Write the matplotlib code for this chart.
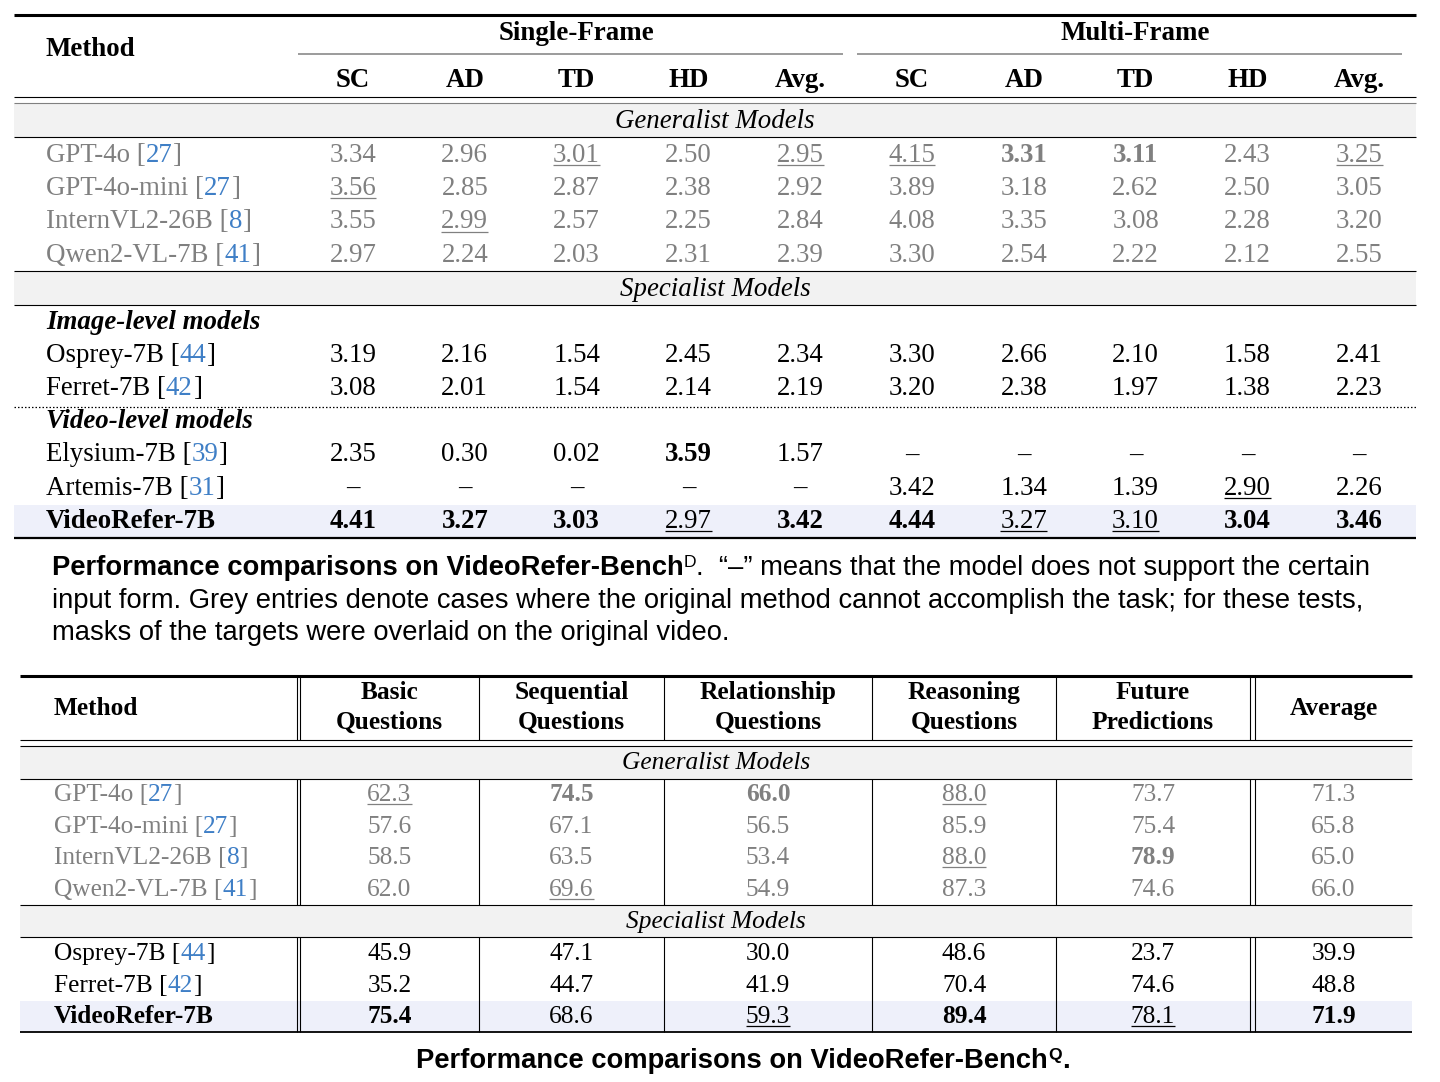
import matplotlib
matplotlib.use('Agg')
import matplotlib.pyplot as plt
from matplotlib.patches import Rectangle

# ---------------- data: table 1 (VideoRefer-Bench D) ----------------
t1_groups = ['Single-Frame', 'Multi-Frame']
t1_metrics = ['SC', 'AD', 'TD', 'HD', 'Avg.']

t1_gen_names = ['GPT-4o', 'GPT-4o-mini', 'InternVL2-26B', 'Qwen2-VL-7B']
t1_gen_refs = ['27', '27', '8', '41']
t1_gen_vals = [
    [3.34, 2.96, 3.01, 2.50, 2.95, 4.15, 3.31, 3.11, 2.43, 3.25],
    [3.56, 2.85, 2.87, 2.38, 2.92, 3.89, 3.18, 2.62, 2.50, 3.05],
    [3.55, 2.99, 2.57, 2.25, 2.84, 4.08, 3.35, 3.08, 2.28, 3.20],
    [2.97, 2.24, 2.03, 2.31, 2.39, 3.30, 2.54, 2.22, 2.12, 2.55],
]
t1_gen_fmt = [
    ['', '', 'u', '', 'u', 'u', 'b', 'b', '', 'u'],
    ['u', '', '', '', '', '', '', '', '', ''],
    ['', 'u', '', '', '', '', '', '', '', ''],
    ['', '', '', '', '', '', '', '', '', ''],
]

t1_img_title = 'Image-level models'
t1_img_names = ['Osprey-7B', 'Ferret-7B']
t1_img_refs = ['44', '42']
t1_img_vals = [
    [3.19, 2.16, 1.54, 2.45, 2.34, 3.30, 2.66, 2.10, 1.58, 2.41],
    [3.08, 2.01, 1.54, 2.14, 2.19, 3.20, 2.38, 1.97, 1.38, 2.23],
]
t1_img_fmt = [[''] * 10, [''] * 10]

t1_vid_title = 'Video-level models'
t1_vid_names = ['Elysium-7B', 'Artemis-7B', 'VideoRefer-7B']
t1_vid_refs = ['39', '31', None]
t1_vid_vals = [
    [2.35, 0.30, 0.02, 3.59, 1.57, None, None, None, None, None],
    [None, None, None, None, None, 3.42, 1.34, 1.39, 2.90, 2.26],
    [4.41, 3.27, 3.03, 2.97, 3.42, 4.44, 3.27, 3.10, 3.04, 3.46],
]
t1_vid_fmt = [
    ['', '', '', 'b', '', '', '', '', '', ''],
    ['', '', '', '', '', '', '', '', 'u', ''],
    ['b', 'b', 'b', 'u', 'b', 'b', 'u', 'u', 'b', 'b'],
]

# ---------------- data: table 2 (VideoRefer-Bench Q) ----------------
t2_headers = [['Basic', 'Questions'], ['Sequential', 'Questions'],
              ['Relationship', 'Questions'], ['Reasoning', 'Questions'],
              ['Future', 'Predictions'], ['Average']]
t2_gen_names = ['GPT-4o', 'GPT-4o-mini', 'InternVL2-26B', 'Qwen2-VL-7B']
t2_gen_refs = ['27', '27', '8', '41']
t2_gen_vals = [
    [62.3, 74.5, 66.0, 88.0, 73.7, 71.3],
    [57.6, 67.1, 56.5, 85.9, 75.4, 65.8],
    [58.5, 63.5, 53.4, 88.0, 78.9, 65.0],
    [62.0, 69.6, 54.9, 87.3, 74.6, 66.0],
]
t2_gen_fmt = [
    ['u', 'b', 'b', 'u', '', ''],
    ['', '', '', '', '', ''],
    ['', '', '', 'u', 'b', ''],
    ['', 'u', '', '', '', ''],
]
t2_spe_names = ['Osprey-7B', 'Ferret-7B', 'VideoRefer-7B']
t2_spe_refs = ['44', '42', None]
t2_spe_vals = [
    [45.9, 47.1, 30.0, 48.6, 23.7, 39.9],
    [35.2, 44.7, 41.9, 70.4, 74.6, 48.8],
    [75.4, 68.6, 59.3, 89.4, 78.1, 71.9],
]
t2_spe_fmt = [
    ['', '', '', '', '', ''],
    ['', '', '', '', '', ''],
    ['b', '', 'u', 'b', 'u', 'b'],
]

cap1_bold = 'Performance comparisons on VideoRefer-Bench'
cap1_sup = 'D'
cap1_rest = '.  \u201c\u2013\u201d means that the model does not support the certain'
cap1_line2 = 'input form. Grey entries denote cases where the original method cannot accomplish the task; for these tests,'
cap1_line3 = 'masks of the targets were overlaid on the original video.'
cap2_bold = 'Performance comparisons on VideoRefer-Bench'
cap2_sup = 'Q'
cap2_end = '.'

# ---------------- style ----------------
W, H = 1440, 1082
SERIF = 'Liberation Serif'
SANS = 'Liberation Sans'
GREY = '#808080'
BLUE = '#3f7fc6'
BLACK = '#000000'
BAND = '#f2f2f2'
HIGHLIGHT = '#eef0fa'
FS1 = 19.4   # table 1 text size (pt)
FS2 = 18.3   # table 2 text size (pt)
FSC = 19.7   # caption size (pt)

fig = plt.figure(figsize=(W / 100, H / 100), dpi=100)
fig.patch.set_facecolor('white')
ax = fig.add_axes([0, 0, 1, 1])
ax.set_xlim(0, W)
ax.set_ylim(H, 0)
ax.axis('off')
fig.canvas.draw()
renderer = fig.canvas.get_renderer()


def hline(x0, x1, y, lw=0.8, color=BLACK, **kw):
    ax.plot([x0, x1], [y, y], color=color, lw=lw, solid_capstyle='butt', **kw)


def put(x, y, s, size, color=BLACK, weight='normal', style='normal',
        family=SERIF, ha='left', underline=False):
    t = ax.text(x, y, s, fontsize=size, color=color, fontweight=weight,
                fontstyle=style, family=family, ha=ha, va='baseline')
    if underline:
        bb = t.get_window_extent(renderer)
        hline(bb.x0, bb.x1, y + 0.16 * size, lw=0.9, color=color)
    return t


def put_runs(x, y, parts, size, family=SERIF, ha='left'):
    texts, widths = [], []
    for p in parts:
        t = ax.text(0, y, p['s'], fontsize=size * p.get('rel', 1.0),
                    color=p.get('color', BLACK), fontweight=p.get('weight', 'normal'),
                    fontstyle=p.get('style', 'normal'), family=family,
                    ha='left', va='baseline')
        widths.append(t.get_window_extent(renderer).width + p.get('gap', 0))
        texts.append(t)
    total = sum(widths)
    x0 = x - total / 2 if ha == 'center' else x
    for t, w, p in zip(texts, widths, parts):
        t.set_x(x0)
        t.set_y(y - p.get('dy', 0))
        x0 += w


def name_runs(name, ref, color, weight='normal'):
    if ref is None:
        return [dict(s=name, color=color, weight=weight)]
    return [dict(s=name + ' [', color=color, weight=weight),
            dict(s=ref, color=BLUE, weight=weight),
            dict(s=']', color=color, weight=weight)]


def fmt_val(v, nd):
    return '\u2013' if v is None else f'{v:.{nd}f}'


# ======================= TABLE 1 =======================
T1L, T1R = 14, 1416
T1_NAME_X = 46
RH1 = 33.4
BAND1 = 34
BL1 = 8.0  # baseline offset from row centre
col1_x = [353 + i * 111.8 for i in range(10)]
grp_span = [(298, 843), (857, 1402)]

hline(T1L, T1R, 15, lw=2.2)
put(T1_NAME_X, 56, 'Method', FS1, weight='bold')
for gi, (g, (a, b)) in enumerate(zip(t1_groups, grp_span)):
    cx = (col1_x[5 * gi] + col1_x[5 * gi + 4]) / 2
    put(cx, 40, g, FS1, weight='bold', ha='center')
    hline(a, b, 54, lw=1.1, color=GREY)
for i, x in enumerate(col1_x):
    put(x, 87, t1_metrics[i % 5], FS1, weight='bold', ha='center')
hline(T1L, T1R, 97, lw=0.8)
hline(T1L, T1R, 103, lw=0.8, color=GREY)

y = 103
# Generalist band
ax.add_patch(Rectangle((T1L, y), T1R - T1L, BAND1, color=BAND, lw=0, zorder=0))
put((T1L + T1R) / 2, y + BAND1 / 2 + 8, 'Generalist Models', FS1, style='italic', ha='center')
y += BAND1
hline(T1L, T1R, y, lw=0.8)


def t1_row(yc, name, ref, vals, fmt, color, name_weight='normal'):
    put_runs(T1_NAME_X, yc + BL1, name_runs(name, ref, color, name_weight), FS1)
    for x, v, f in zip(col1_x, vals, fmt):
        put(x, yc + BL1, fmt_val(v, 2), FS1, color=color,
            weight='bold' if f == 'b' else 'normal', ha='center', underline=(f == 'u'))


for n, r, v, f in zip(t1_gen_names, t1_gen_refs, t1_gen_vals, t1_gen_fmt):
    t1_row(y + RH1 / 2, n, r, v, f, GREY)
    y += RH1
y = 271
hline(T1L, T1R, y, lw=0.8)
ax.add_patch(Rectangle((T1L, y), T1R - T1L, BAND1, color=BAND, lw=0, zorder=0))
put((T1L + T1R) / 2, y + BAND1 / 2 + 8, 'Specialist Models', FS1, style='italic', ha='center')
y += BAND1
hline(T1L, T1R, y, lw=0.8)

put(T1_NAME_X, y + 16 + BL1, t1_img_title, FS1, weight='bold', style='italic')
for k, (n, r, v, f) in enumerate(zip(t1_img_names, t1_img_refs, t1_img_vals, t1_img_fmt)):
    t1_row(y + 16 + (k + 1) * 33, n, r, v, f, BLACK)
y = 407
hline(T1L, T1R, y, lw=0.9, linestyle=(0, (1.2, 1.6)))

put(T1_NAME_X, y + 13 + BL1, t1_vid_title, FS1, weight='bold', style='italic')
bottom1 = 538
for k, (n, r, v, f) in enumerate(zip(t1_vid_names, t1_vid_refs, t1_vid_vals, t1_vid_fmt)):
    yc = y + 13 + (k + 1) * 33.4
    last = k == len(t1_vid_names) - 1
    if last:
        ax.add_patch(Rectangle((T1L, yc - 15.5), T1R - T1L, bottom1 - (yc - 15.5),
                               color=HIGHLIGHT, lw=0, zorder=0))
    t1_row(yc, n, r, v, f, BLACK, 'bold' if last else 'normal')
hline(T1L, T1R, bottom1, lw=1.6)

# caption 1
CAPX = 52
put_runs(CAPX, 575, [dict(s=cap1_bold, weight='bold'),
                     dict(s=cap1_sup, rel=0.64, dy=8),
                     dict(s=cap1_rest)], FSC, family=SANS)
put(CAPX, 608, cap1_line2, FSC, family=SANS)
put(CAPX, 640, cap1_line3, FSC, family=SANS)

# ======================= TABLE 2 =======================
T2L, T2R = 20, 1412
T2_NAME_X = 54
RH2 = 31.6
BAND2 = 32.5
BL2 = 7.0
vbounds = [300, 479, 664, 872, 1056, 1250]
dbl = [297, 1255]
col2_x = [(vbounds[i] + vbounds[i + 1]) / 2 for i in range(5)] + [(1255 + T2R) / 2]
vlines_x = vbounds + dbl


def vsegs(y0, y1):
    for x in vlines_x:
        ax.plot([x, x], [y0, y1], color=BLACK, lw=0.8, solid_capstyle='butt')


top2 = 676
hline(T2L, T2R, top2, lw=2.2)
put(T2_NAME_X, 715, 'Method', FS2, weight='bold')
for x, lines in zip(col2_x, t2_headers):
    if len(lines) == 2:
        put(x, 699, lines[0], FS2, weight='bold', ha='center')
        put(x, 729, lines[1], FS2, weight='bold', ha='center')
    else:
        put(x, 715, lines[0], FS2, weight='bold', ha='center')
vsegs(top2, 740)
hline(T2L, T2R, 740, lw=0.8)
hline(T2L, T2R, 746, lw=0.8)

y = 746
ax.add_patch(Rectangle((T2L, y), T2R - T2L, BAND2, color=BAND, lw=0, zorder=0))
put((T2L + T2R) / 2, y + BAND2 / 2 + 7, 'Generalist Models', FS2, style='italic', ha='center')
y += BAND2
hline(T2L, T2R, y, lw=0.8)


def t2_row(yc, name, ref, vals, fmt, color, name_weight='normal'):
    put_runs(T2_NAME_X, yc + BL2, name_runs(name, ref, color, name_weight), FS2)
    for x, v, f in zip(col2_x, vals, fmt):
        put(x, yc + BL2, fmt_val(v, 1), FS2, color=color,
            weight='bold' if f == 'b' else 'normal', ha='center', underline=(f == 'u'))


y0 = y
for n, r, v, f in zip(t2_gen_names, t2_gen_refs, t2_gen_vals, t2_gen_fmt):
    t2_row(y + RH2 / 2, n, r, v, f, GREY)
    y += RH2
vsegs(y0, y)
hline(T2L, T2R, y, lw=0.8)
ax.add_patch(Rectangle((T2L, y), T2R - T2L, BAND2, color=BAND, lw=0, zorder=0))
put((T2L + T2R) / 2, y + BAND2 / 2 + 7, 'Specialist Models', FS2, style='italic', ha='center')
y += BAND2
hline(T2L, T2R, y, lw=0.8)
y0 = y
for k, (n, r, v, f) in enumerate(zip(t2_spe_names, t2_spe_refs, t2_spe_vals, t2_spe_fmt)):
    last = k == len(t2_spe_names) - 1
    if last:
        ax.add_patch(Rectangle((T2L, y), T2R - T2L, RH2, color=HIGHLIGHT, lw=0, zorder=0))
    t2_row(y + RH2 / 2, n, r, v, f, BLACK, 'bold' if last else 'normal')
    y += RH2
vsegs(y0, y)
hline(T2L, T2R, y, lw=1.3)

# caption 2
put_runs(743, 1068, [dict(s=cap2_bold, weight='bold'),
                     dict(s=cap2_sup, weight='bold', rel=0.64, dy=8),
                     dict(s=cap2_end, weight='bold')], FSC, family=SANS, ha='center')

fig.savefig('out.png', dpi=100, facecolor='white')
